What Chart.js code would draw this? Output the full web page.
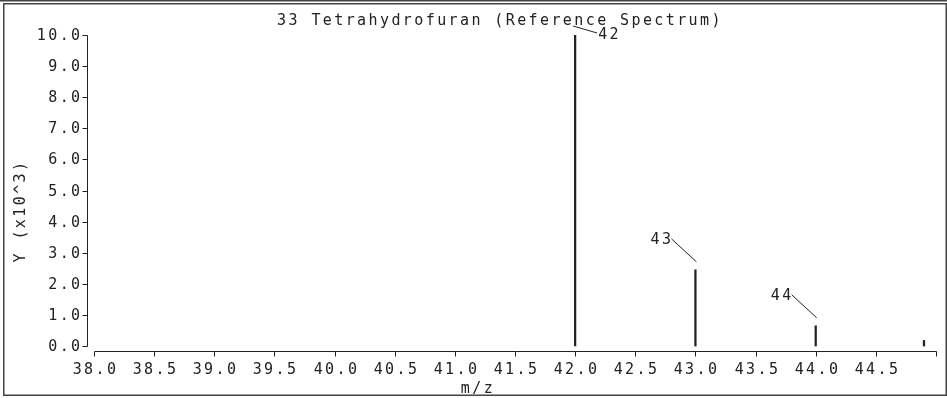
<!DOCTYPE html>
<html>
<head>
<meta charset="utf-8">
<title>33 Tetrahydrofuran (Reference Spectrum)</title>
<script src="https://cdn.jsdelivr.net/npm/chart.js@4/dist/chart.umd.min.js"></script>
<style>
  html, body { margin: 0; padding: 0; background: #fff; }
  #spectrum { display: block; }
</style>
</head>
<body>
<canvas id="spectrum" width="947" height="398"></canvas>
<script>
// Peak list (m/z, raw intensity)
const peakMz = [42, 43, 44, 44.9];
const peakIntensity = [10000, 2450, 650, 180];
// Peaks that get a number tag
const labeledPeaks = [42, 43, 44];

// Axis ticks
const xTicks = [38.0, 38.5, 39.0, 39.5, 40.0, 40.5, 41.0, 41.5, 42.0, 42.5, 43.0, 43.5, 44.0, 44.5, 45.0];
const xTickLabels = ['38.0', '38.5', '39.0', '39.5', '40.0', '40.5', '41.0', '41.5', '42.0', '42.5', '43.0', '43.5', '44.0', '44.5', ''];
const yTicks = [0, 1, 2, 3, 4, 5, 6, 7, 8, 9, 10];
const yTickLabels = ['0.0', '1.0', '2.0', '3.0', '4.0', '5.0', '6.0', '7.0', '8.0', '9.0', '10.0'];

const chartTitle = '33 Tetrahydrofuran (Reference Spectrum)';
const xTitle = 'm/z';
const yTitle = 'Y (x10^3)';

const INK = '#222';
const FONT = '15px "DejaVu Sans Mono", monospace';
const SPACING = '2.4px';

// draws the detached axes, ticks, titles, peak tags and the frame
const spectrumDecor = {
    id: 'spectrumDecor',
    afterDatasetsDraw(chart) {
        const ctx = chart.ctx;
        const xs = chart.scales.x;
        const ys = chart.scales.y;
        const yAxisX = Math.round(xs.left) + 0.5;
        const xAxisY = Math.round(ys.bottom) + 0.5;

        ctx.save();
        ctx.strokeStyle = INK;
        ctx.fillStyle = INK;
        ctx.lineWidth = 1;
        ctx.font = FONT;
        ctx.letterSpacing = SPACING;

        // y axis
        const yTop = Math.round(ys.getPixelForValue(yTicks[yTicks.length - 1])) + 0.5;
        const yBot = Math.round(ys.getPixelForValue(yTicks[0])) + 0.5;
        ctx.beginPath();
        ctx.moveTo(yAxisX, yTop);
        ctx.lineTo(yAxisX, yBot);
        ctx.stroke();
        ctx.textAlign = 'right';
        ctx.textBaseline = 'middle';
        yTicks.forEach((v, i) => {
            const py = Math.round(ys.getPixelForValue(v)) + 0.5;
            ctx.beginPath();
            ctx.moveTo(yAxisX - 5, py);
            ctx.lineTo(yAxisX, py);
            ctx.stroke();
            ctx.fillText(yTickLabels[i], yAxisX - 5, py + 1);
        });

        // x axis
        const xLeft = Math.round(xs.getPixelForValue(xTicks[0])) + 0.5;
        const xRight = Math.round(xs.getPixelForValue(xTicks[xTicks.length - 1])) + 0.5;
        ctx.beginPath();
        ctx.moveTo(xLeft, xAxisY);
        ctx.lineTo(xRight, xAxisY);
        ctx.stroke();
        ctx.textAlign = 'center';
        ctx.textBaseline = 'alphabetic';
        xTicks.forEach((v, i) => {
            const px = Math.round(xs.getPixelForValue(v)) + 0.5;
            ctx.beginPath();
            ctx.moveTo(px, xAxisY);
            ctx.lineTo(px, xAxisY + 5);
            ctx.stroke();
            if (xTickLabels[i]) ctx.fillText(xTickLabels[i], px + 1, xAxisY + 22);
        });

        // titles
        ctx.fillText(xTitle, 478, 393);
        ctx.fillText(chartTitle, 500, 25);
        ctx.save();
        ctx.translate(21, 211);
        ctx.rotate(-Math.PI / 2);
        ctx.textBaseline = 'middle';
        ctx.fillText(yTitle, 0, 0);
        ctx.restore();

        // peak tags with leader lines
        labeledPeaks.forEach(mz => {
            const idx = peakMz.indexOf(mz);
            const bx = xs.getPixelForValue(mz);
            const by = ys.getPixelForValue(peakIntensity[idx] / 1000);
            ctx.beginPath();
            if (by - ys.top < 20) {
                // no room above: tag goes below-right
                ctx.moveTo(bx - 2, by - 9);
                ctx.lineTo(bx + 22, by - 2);
                ctx.stroke();
                ctx.textAlign = 'left';
                ctx.textBaseline = 'middle';
                ctx.fillText(String(mz), bx + 23, by);
            } else {
                ctx.moveTo(bx - 24, by - 31);
                ctx.lineTo(bx + 1, by - 8);
                ctx.stroke();
                ctx.textAlign = 'right';
                ctx.textBaseline = 'middle';
                ctx.fillText(String(mz), bx - 22, by - 30);
            }
        });

        // outer frame
        ctx.strokeStyle = '#444';
        ctx.lineWidth = 1.5;
        ctx.beginPath();
        ctx.moveTo(0, 0.75);
        ctx.lineTo(chart.width, 0.75);
        ctx.stroke();
        ctx.strokeRect(3.75, 3.75, chart.width - 4.5, chart.height - 6.5);
        ctx.restore();
    }
};

new Chart(document.getElementById('spectrum'), {
    type: 'bar',
    data: {
        datasets: [{
            data: peakMz.map((mz, i) => ({ x: mz, y: peakIntensity[i] / 1000 })),
            backgroundColor: INK,
            borderWidth: 0,
            barThickness: 1.6
        }]
    },
    options: {
        responsive: false,
        animation: false,
        devicePixelRatio: 1,
        layout: {
            padding: { left: 87, right: 11, top: 35, bottom: 47 }
        },
        plugins: {
            legend: { display: false },
            tooltip: { enabled: false },
            title: { display: false }
        },
        scales: {
            x: {
                type: 'linear',
                min: 37.942,
                max: 45,
                offset: false,
                display: false
            },
            y: {
                min: -0.16,
                max: 10,
                display: false
            }
        }
    },
    plugins: [spectrumDecor]
});
</script>
</body>
</html>
